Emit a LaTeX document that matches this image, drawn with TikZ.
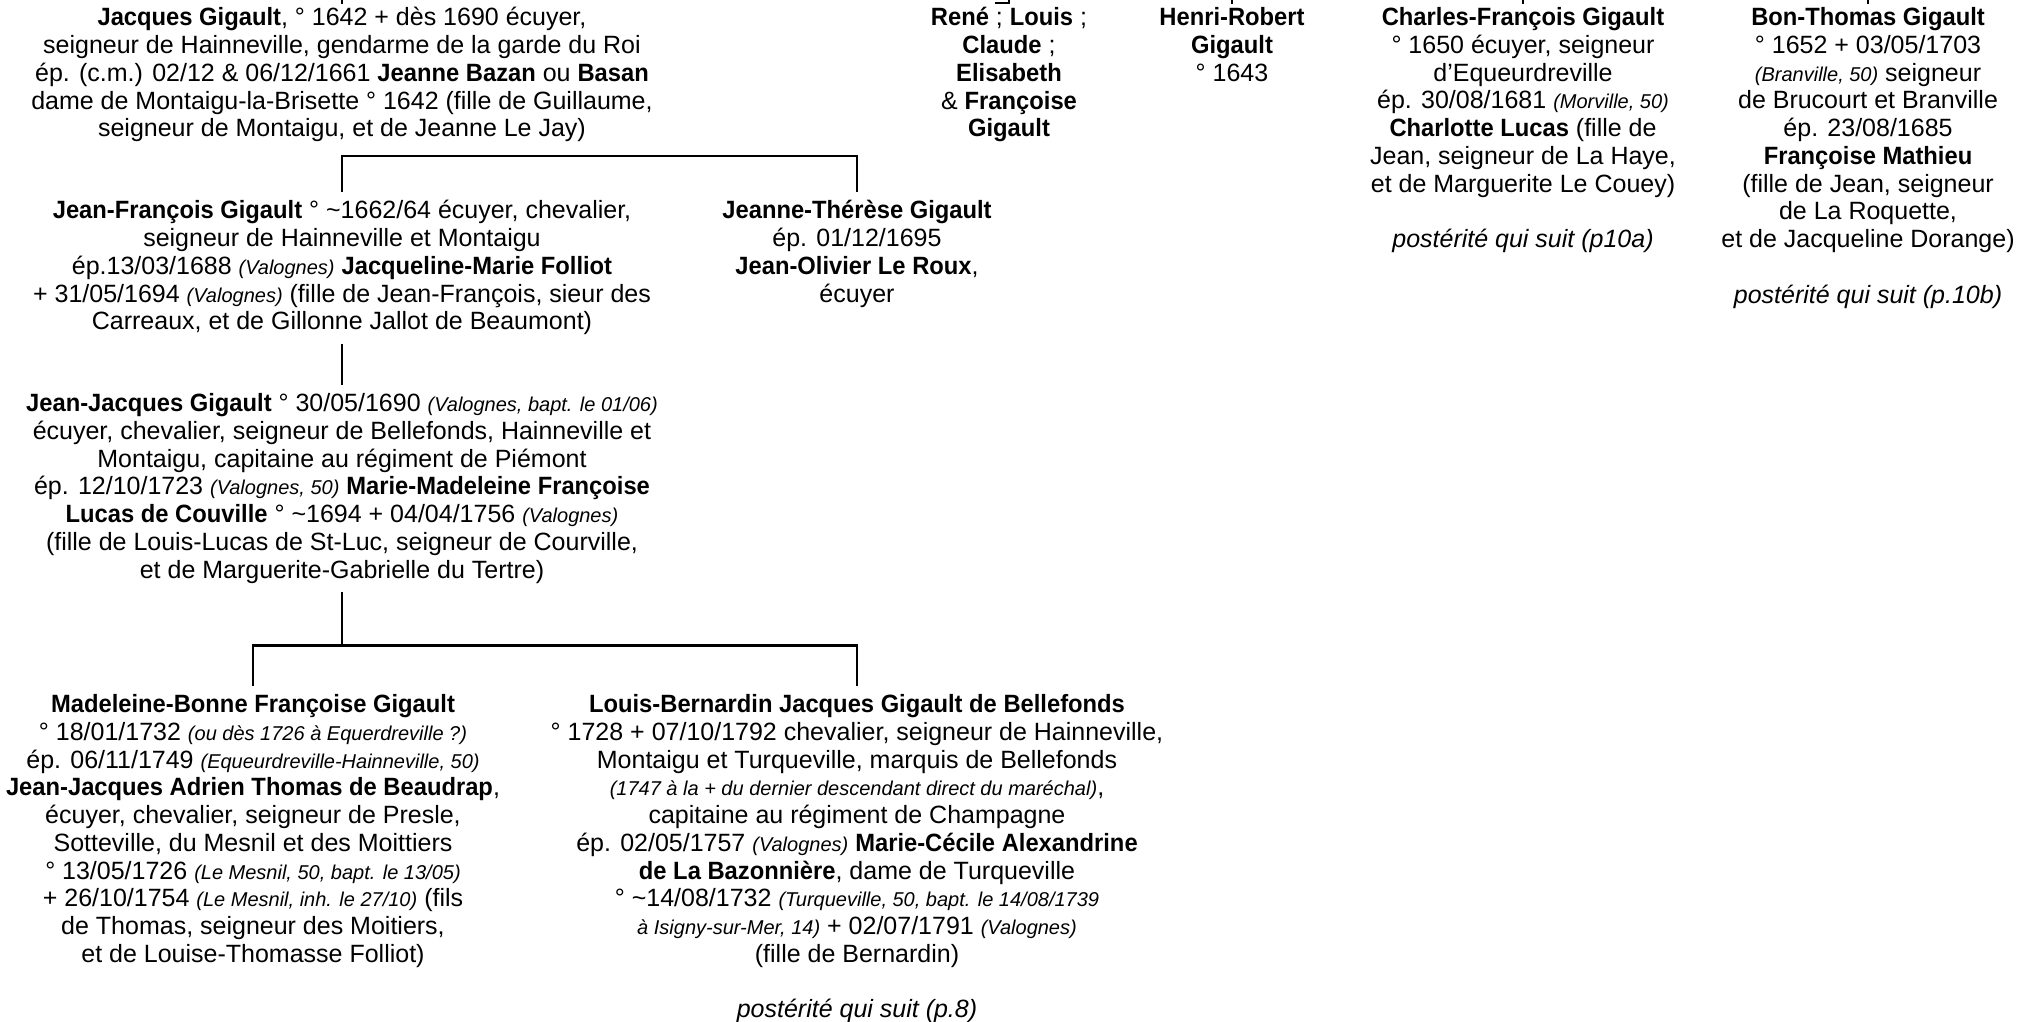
\documentclass[tikz,border=0pt]{standalone}
\usepackage{fontspec}
\setmainfont{Liberation Sans}[BoldFeatures={FakeStretch=0.95}]
\newcommand{\pl}[1]{{\fontsize{8}{11.1}\selectfont\itshape #1}}
\newcommand{\env}{\textasciitilde}
\tikzset{
  person/.style={align=center, inner xsep=0pt, inner ysep=3.2pt, anchor=north,
    font=\fontsize{10}{11.1}\selectfont},
  link/.style={line width=1.1pt}
}
\begin{document}
\begin{tikzpicture}[x=0.4pt,y=-0.4pt]
      \useasboundingbox (0,0) rectangle (2017,1021);
      \draw
        (342,-1) node[person] (jacques) {\textbf{Jacques Gigault}, ° 1642 + dès 1690 écuyer,\\
          seigneur de Hainneville, gendarme de la garde du Roi\\
          ép. (c.m.) 02/12 \& 06/12/1661 \textbf{Jeanne Bazan} ou \textbf{Basan}\\
          dame de Montaigu-la-Brisette ° 1642 (fille de Guillaume,\\
          seigneur de Montaigu, et de Jeanne Le Jay)}
        (1009,-1) node[person] (rene) {\textbf{René} ; \textbf{Louis} ;\\
          \textbf{Claude} ;\\ \textbf{Elisabeth}\\ \& \textbf{Françoise}\\ \textbf{Gigault}}
        (1232,-1) node[person] (henri) {\textbf{Henri-Robert}\\ \textbf{Gigault}\\ ° 1643}
        (1523,-1) node[person] (charles) {\textbf{Charles-François Gigault}\\
          ° 1650 écuyer, seigneur\\ d’Equeurdreville\\
          ép. 30/08/1681 \pl{(Morville, 50)}\\
          \textbf{Charlotte Lucas} (fille de\\ Jean, seigneur de La Haye,\\
          et de Marguerite Le Couey)\\[11.1pt]
          \textit{postérité qui suit (p10a)}}
        (1868,-1) node[person] (bon) {\textbf{Bon-Thomas Gigault}\\
          ° 1652 + 03/05/1703\\ \pl{(Branville, 50)} seigneur\\
          de Brucourt et Branville\\ ép. 23/08/1685\\
          \textbf{Françoise Mathieu}\\ (fille de Jean, seigneur\\ de La Roquette,\\
          et de Jacqueline Dorange)\\[11.1pt]
          \textit{postérité qui suit (p.10b)}}
        (342,192) node[person] (jf) {\textbf{Jean-François Gigault} ° \env1662/64 écuyer, chevalier,\\
          seigneur de Hainneville et Montaigu\\
          ép.13/03/1688 \pl{(Valognes)} \textbf{Jacqueline-Marie Folliot}\\
          + 31/05/1694 \pl{(Valognes)} (fille de Jean-François, sieur des\\
          Carreaux, et de Gillonne Jallot de Beaumont)}
        (857,192) node[person] (jt) {\textbf{Jeanne-Thérèse Gigault}\\
          ép. 01/12/1695\\ \textbf{Jean-Olivier Le Roux},\\ écuyer}
        (342,385) node[person] (jj) {\textbf{Jean-Jacques Gigault} ° 30/05/1690 \pl{(Valognes, bapt. le 01/06)}\\
          écuyer, chevalier, seigneur de Bellefonds, Hainneville et\\
          Montaigu, capitaine au régiment de Piémont\\
          ép. 12/10/1723 \pl{(Valognes, 50)} \textbf{Marie-Madeleine Françoise}\\
          \textbf{Lucas de Couville} ° \env1694 + 04/04/1756 \pl{(Valognes)}\\
          (fille de Louis-Lucas de St-Luc, seigneur de Courville,\\
          et de Marguerite-Gabrielle du Tertre)}
        (253,686) node[person] (mb) {\textbf{Madeleine-Bonne Françoise Gigault}\\
          ° 18/01/1732 \pl{(ou dès 1726 à Equerdreville ?)}\\
          ép. 06/11/1749 \pl{(Equeurdreville-Hainneville, 50)}\\
          \textbf{Jean-Jacques Adrien Thomas de Beaudrap},\\
          écuyer, chevalier, seigneur de Presle,\\
          Sotteville, du Mesnil et des Moittiers\\
          ° 13/05/1726 \pl{(Le Mesnil, 50, bapt. le 13/05)}\\
          + 26/10/1754 \pl{(Le Mesnil, inh. le 27/10)} (fils\\
          de Thomas, seigneur des Moitiers,\\
          et de Louise-Thomasse Folliot)}
        (857,686) node[person] (lb) {\textbf{Louis-Bernardin Jacques Gigault de Bellefonds}\\
          ° 1728 + 07/10/1792 chevalier, seigneur de Hainneville,\\
          Montaigu et Turqueville, marquis de Bellefonds\\
          \pl{(1747 à la + du dernier descendant direct du maréchal)},\\
          capitaine au régiment de Champagne\\
          ép. 02/05/1757 \pl{(Valognes)} \textbf{Marie-Cécile Alexandrine}\\
          \textbf{de La Bazonnière}, dame de Turqueville\\
          ° \env14/08/1732 \pl{(Turqueville, 50, bapt. le 14/08/1739}\\
          \pl{à Isigny-sur-Mer, 14)} + 02/07/1791 \pl{(Valognes)}\\
          (fille de Bernardin)\\[11.1pt]
          \textit{postérité qui suit (p.8)}};
      \begin{scope}[link]
        % traits venant de la page precedente
        \draw (jacques.north) ++(0,5) -- +(0,-20);
        \draw (rene.north) ++(-14,4) -- +(14,0) -- +(14,-20);
        \draw (henri.north) ++(0,5) -- +(0,-20);
        \draw (charles.north) ++(0,5) -- +(0,-20);
        \draw (bon.north) ++(0,5) -- +(0,-20);
        \draw (jf.north) -- ++(0,-36) -| (jt.north);
        \draw (jf.south) -- (jj.north);
        \draw (jj.south) -- ++(0,54) coordinate (fork);
        \draw (mb.north) |- (fork) -| (lb.north);
      \end{scope}
    \end{tikzpicture}
\end{document}
